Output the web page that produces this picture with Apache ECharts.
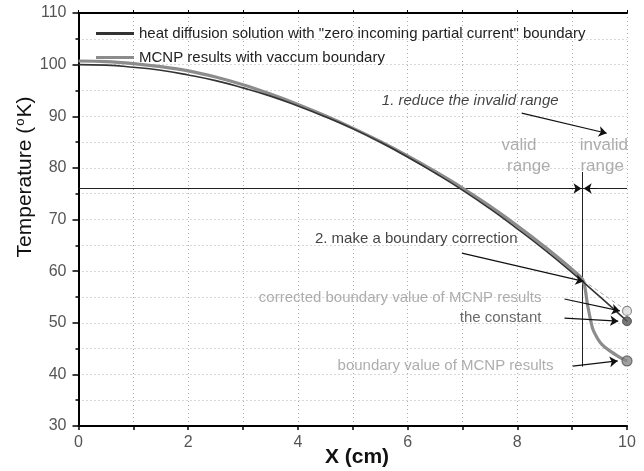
<!DOCTYPE html>
<html>
<head>
<meta charset="utf-8">
<script src="https://cdn.jsdelivr.net/npm/echarts@6/dist/echarts.min.js"></script>
<style>html,body{margin:0;padding:0;background:#fff;}#c{width:644px;height:471px;}</style>
</head>
<body>
<div id="c"></div>
<script>
// ---- data ----
const heatX = [0,0.5,1,1.5,2,2.5,3,3.5,4,4.5,5,5.5,6,6.5,7,7.5,8,8.5,9,9.5,10];
const heatT = [100,99.9,99.5,98.9,98.0,96.9,95.5,93.9,92.0,89.9,87.6,85.0,82.1,79.0,75.7,72.1,68.2,64.1,59.7,55.1,50.3];
const mcnpX = [0,0.5,1,1.5,2,2.5,3,3.5,4,4.5,5,5.5,6,6.5,7,7.5,8,8.5,9,9.2,9.28,9.37,9.46,9.55,9.68,9.81,9.92,10];
const mcnpT = [100.7,100.6,100.2,99.6,98.8,97.6,96.1,94.3,92.3,90.1,87.7,85.1,82.3,79.3,76.1,72.6,68.8,64.7,60.3,58.2,53.5,49.0,47.0,45.7,44.6,43.7,43.0,42.6];
const correctedX = [9.2, 10];
const correctedT = [58.2, 52.3];
const boundaryCorrected = [10, 52.3];
const boundaryConstant = [10, 50.3];
const boundaryMCNP = [10, 42.6];
const validLimitX = 9.19;
const validLineT = 76;
const xTickLabels = [0,2,4,6,8,10];
const yTickLabels = [30,40,50,60,70,80,90,100,110];
const legendNames = ['heat diffusion solution with "zero incoming partial current" boundary', 'MCNP results with vaccum boundary'];

const FONT = '"Liberation Sans", Arial, sans-serif';
const zip = (xs, ys) => xs.map((x, i) => [x, ys[i]]);

const arrows = [
  [[8.08, 90.6], [9.63, 86.7]],
  [[6.99, 63.5], [9.21, 58.0]],
  [[8.86, 54.6], [9.87, 52.3]],
  [[8.86, 50.9], [9.84, 50.3]],
  [[9.01, 41.6], [9.83, 42.6]],
  [[8.95, 76], [9.17, 76]],
  [[9.45, 76], [9.21, 76]]
];
const plainLines = [
  [[0, validLineT], [10, validLineT]],
  [[validLimitX, 79.2], [validLimitX, 41.5]]
];
const texts = [
  {t: '1. reduce the invalid range', p: [5.53, 92.9], align: 'left', color: '#111', size: 15, style: 'italic'},
  {t: 'valid', p: [8.03, 84.4], align: 'center', color: '#999', size: 17},
  {t: 'range', p: [8.21, 80.3], align: 'center', color: '#999', size: 17},
  {t: 'invalid', p: [9.14, 84.4], align: 'left', color: '#999', size: 17},
  {t: 'range', p: [9.15, 80.3], align: 'left', color: '#999', size: 17},
  {t: '2. make a boundary correction', p: [4.31, 66.2], align: 'left', color: '#111', size: 15},
  {t: 'corrected boundary value of MCNP results', p: [8.44, 54.8], align: 'right', color: '#999', size: 15},
  {t: 'the constant', p: [8.44, 50.9], align: 'right', color: '#444', size: 15},
  {t: 'boundary value of MCNP results', p: [8.66, 41.6], align: 'right', color: '#999', size: 15}
];

const chart = echarts.init(document.getElementById('c'), null, {renderer: 'canvas'});
const gridLine = {show: true, lineStyle: {color: '#b0b0b0', type: [1, 3], width: 1}};
chart.setOption({
  animation: false,
  backgroundColor: '#fff',
  grid: {left: 78.5, right: 17, top: 13, bottom: 45},
  legend: {
    orient: 'vertical', left: 91, top: 21, itemGap: 9, itemWidth: 38, itemHeight: 3,
    textStyle: {fontFamily: FONT, fontSize: 15, color: '#222'},
    data: [
      {name: legendNames[0], icon: 'rect', itemStyle: {color: '#333'}},
      {name: legendNames[1], icon: 'rect', itemStyle: {color: '#8c8c8c'}}
    ]
  },
  xAxis: [{
    type: 'value', min: 0, max: 10, interval: 2,
    axisLine: {lineStyle: {color: '#000', width: 2}},
    axisTick: {show: true, length: 4, lineStyle: {color: '#000', width: 1.5}},
    minorTick: {show: true, splitNumber: 2, length: 4, lineStyle: {color: '#000', width: 1.5}},
    axisLabel: {margin: 9, fontFamily: FONT, fontSize: 16, color: '#555',
      formatter: v => xTickLabels.includes(v) ? String(v) : ''},
    splitLine: gridLine, minorSplitLine: gridLine
  }, {
    type: 'value', min: 0, max: 10, interval: 2, position: 'top',
    axisLine: {lineStyle: {color: '#000', width: 2}},
    axisTick: {show: true, length: 3, lineStyle: {color: '#000', width: 1}},
    minorTick: {show: true, splitNumber: 2, length: 3, lineStyle: {color: '#000', width: 1}},
    axisLabel: {show: false}, splitLine: {show: false}
  }],
  yAxis: [{
    type: 'value', min: 30, max: 110, interval: 10,
    axisLine: {lineStyle: {color: '#000', width: 2}},
    axisTick: {show: true, length: 6, lineStyle: {color: '#000', width: 1.5}},
    minorTick: {show: true, splitNumber: 2, length: 3, lineStyle: {color: '#000', width: 1.5}},
    axisLabel: {margin: 12, fontFamily: FONT, fontSize: 16, color: '#555',
      formatter: v => yTickLabels.includes(v) ? String(v) : ''},
    splitLine: gridLine, minorSplitLine: gridLine
  }, {
    type: 'value', min: 30, max: 110, interval: 10, position: 'right',
    axisLine: {show: true, lineStyle: {color: '#000', width: 2}},
    axisTick: {show: false}, axisLabel: {show: false}, splitLine: {show: false}
  }],
  graphic: [{
    type: 'text', x: 357, y: 457,
    style: {text: 'X (cm)', font: 'bold 21px ' + FONT, fill: '#111', align: 'center', verticalAlign: 'middle'}
  }, {
    type: 'text', x: 25, y: 177, rotation: Math.PI / 2,
    style: {
      text: '{a|Temperature (}{s|o}{a|K)}', align: 'center', verticalAlign: 'middle',
      rich: {
        a: {font: '21px ' + FONT, fill: '#111'},
        s: {font: '13px ' + FONT, fill: '#111', verticalAlign: 'top', padding: [0, 1, 10, 1]}
      }
    }
  }],
  series: [
    {type: 'lines', coordinateSystem: 'cartesian2d', z: 3, silent: true,
     data: plainLines.map(c => ({coords: c})),
     lineStyle: {color: '#222', width: 1, opacity: 1}},
    {type: 'line', name: 'corrected', data: zip(correctedX, correctedT), showSymbol: false, z: 4,
     lineStyle: {color: '#aaa', width: 1, type: [4, 3]}},
    {type: 'line', name: legendNames[1], data: zip(mcnpX, mcnpT), showSymbol: false, smooth: 0.25, z: 5,
     lineStyle: {color: '#8c8c8c', width: 3.2}, itemStyle: {color: '#8c8c8c'}},
    {type: 'line', name: legendNames[0], data: zip(heatX, heatT), showSymbol: false, smooth: true, z: 6,
     lineStyle: {color: '#333', width: 1.6}, itemStyle: {color: '#333'}},
    {type: 'lines', coordinateSystem: 'cartesian2d', z: 7, silent: true,
     data: arrows.map(c => ({coords: c})),
     symbol: ['none', 'arrow'], symbolSize: 8,
     lineStyle: {color: '#111', width: 1.2, opacity: 1}},
    {type: 'scatter', z: 8, silent: true, symbolSize: 9,
     data: [
       {value: boundaryCorrected, itemStyle: {color: '#ddd', borderColor: '#777', borderWidth: 1.2}},
       {value: boundaryConstant, itemStyle: {color: '#555', borderColor: '#444', borderWidth: 1}},
       {value: boundaryMCNP, symbolSize: 10, itemStyle: {color: '#888', borderColor: '#555', borderWidth: 1.2}}
     ]},
    {type: 'scatter', z: 9, silent: true, symbolSize: 0,
     data: texts.map(d => ({
       value: d.p,
       label: {show: true, position: [0, 0], formatter: d.t, align: d.align, verticalAlign: 'middle',
         color: d.color, fontSize: d.size, fontFamily: FONT, fontStyle: d.style || 'normal'}
     }))}
  ]
});
</script>
</body>
</html>
